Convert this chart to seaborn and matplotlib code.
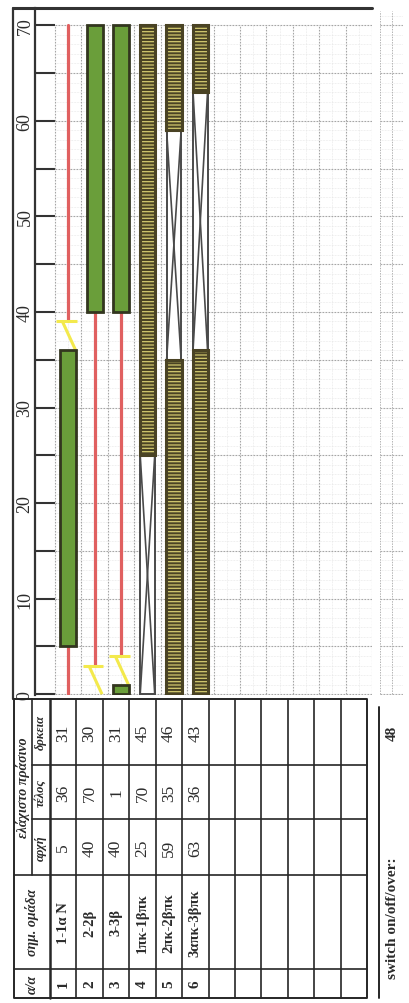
import matplotlib
matplotlib.use("Agg")
import pandas as pd
import matplotlib.pyplot as plt
import seaborn as sns

# πρόγραμμα σηματοδότησης (κύκλος 70 sec)
CYCLE = 70
AMBER = 3

aa = [1, 2, 3, 4, 5, 6]
groups = ["1-1α Ν", "2-2β", "3-3β", "1πκ-1βπκ", "2πκ-2βπκ", "3απκ-3βπκ"]
start = [5, 40, 40, 25, 59, 63]
end = [36, 70, 1, 70, 35, 36]
duration = [31, 30, 31, 45, 46, 43]
pedestrian = [False, False, False, True, True, True]
n_rows = 12
time_ticks = list(range(0, 71, 5))
switch_label = "switch on/off/over:"
switch_value = 48

W, H = 409, 1004
FONT = ["Liberation Serif", "DejaVu Serif"]
DARK = "#2b2b2b"
GREEN = "#6a9e3a"
GREEN_EDGE = "#33361f"
RED = "#e06060"
YELLOW = "#f3e94c"
OLIVE = "#4a4324"
STRIPE = "#d2c96e"


def spans(a, b):
    a, b = a % CYCLE, b % CYCLE
    out = [(a, b)] if a < b else [(a, CYCLE), (0, b)]
    return [(s, e) for s, e in out if e > s]


def px_box(x0, y0, x1, y1):
    return [x0 / W, 1 - y1 / H, (x1 - x0) / W, (y1 - y0) / H]


sns.set_theme(style="white")
plt.rcParams["font.family"] = FONT

# διαστήματα ανά ομάδα
green_rows, red_rows, amber_rows, x_rows = [], [], [], []
for i, (s, e) in enumerate(zip(start, end)):
    lane = i + 1
    for a, b in spans(s, e):
        green_rows.append({"lane": lane, "bottom": a, "height": b - a, "ped": pedestrian[i]})
    if pedestrian[i]:
        for a, b in spans(e, s):
            x_rows.append({"lane": lane, "a": a, "b": b})
    else:
        am0 = e % CYCLE
        amber_rows.append({"lane": lane, "a": am0, "b": am0 + AMBER})
        for k, (a, b) in enumerate(spans(am0 + AMBER, s)):
            red_rows += [{"seg": f"{lane}-{k}", "lane": lane, "t": a},
                         {"seg": f"{lane}-{k}", "lane": lane, "t": b}]
green_df = pd.DataFrame(green_rows)
red_df = pd.DataFrame(red_rows)
amber_df = pd.DataFrame(amber_rows)
x_df = pd.DataFrame(x_rows)

fig = plt.figure(figsize=(W / 100, H / 100), dpi=100)
fig.patch.set_facecolor("white")

# ---- διάγραμμα χρόνου ----
ax = fig.add_axes(px_box(35, 9, 372, 696))
ax.set_xlim(0.5 - 20 / 26.4, n_rows + 0.5)
ax.set_ylim(-0.08, 71.8)
ax.set_facecolor("white")

# πλέγμα
lanes_edges = [k + 0.5 for k in range(n_rows + 1)]
ax.hlines(range(0, CYCLE + 1), 0.5, n_rows + 0.5, colors="#e2e2e2", lw=0.5,
          linestyles=(0, (1, 1.2)), zorder=0.5)
ax.vlines([k + 1.0 for k in range(n_rows)], 0, CYCLE, colors="#e2e2e2", lw=0.5,
          linestyles=(0, (1, 1.2)), zorder=0.5)
ax.hlines(time_ticks, 0.5, n_rows + 0.5, colors="#a6a6a6", lw=0.8,
          linestyles=(0, (1.5, 1.2)), zorder=0.6)
ax.vlines(lanes_edges, 0, CYCLE, colors="#a6a6a6", lw=0.8,
          linestyles=(0, (1.5, 1.2)), zorder=0.6)

# κόκκινο
sns.lineplot(data=red_df, x="lane", y="t", units="seg", estimator=None, sort=False,
             color=RED, lw=2.3, ax=ax, zorder=2, legend=False)

# κίτρινο
for _, r in amber_df.iterrows():
    ax.plot([r.lane + 0.28, r.lane - 0.22], [r.a, r.b], color=YELLOW, lw=2.2,
            solid_capstyle="butt", zorder=2.5)
    ax.plot([r.lane - 0.45, r.lane + 0.32], [r.b, r.b], color=YELLOW, lw=2.2,
            solid_capstyle="butt", zorder=2.5)

# πράσινο οχημάτων
veh = green_df[~green_df.ped]
ax.bar(veh.lane, veh.height, width=0.6, bottom=veh.bottom, color=GREEN,
       edgecolor=GREEN_EDGE, linewidth=2.0, zorder=3)

# πράσινο πεζών (γραμμοσκίαση)
ped = green_df[green_df.ped]
plt.rcParams["hatch.linewidth"] = 0.9
ax.bar(ped.lane, ped.height, width=0.58, bottom=ped.bottom, color=OLIVE,
       edgecolor=STRIPE, linewidth=0, hatch="-----", zorder=3)
ax.bar(ped.lane, ped.height, width=0.58, bottom=ped.bottom, fill=False,
       edgecolor=OLIVE, linewidth=2.2, zorder=3.2)

# κόκκινο πεζών (πλαίσιο με Χ)
xw = 0.55
ax.bar(x_df.lane, x_df.b - x_df.a, width=xw, bottom=x_df.a, color="white",
       edgecolor="#4a4a4a", linewidth=1.4, zorder=2.8)
for _, r in x_df.iterrows():
    ax.plot([r.lane - xw / 2, r.lane + xw / 2], [r.a, r.b], color="#4a4a4a", lw=1.2, zorder=2.9)
    ax.plot([r.lane + xw / 2, r.lane - xw / 2], [r.a, r.b], color="#4a4a4a", lw=1.2, zorder=2.9)

ax.set_xticks([])
ax.set_yticks(time_ticks)
ax.set_yticklabels([str(t) if t % 10 == 0 else "" for t in time_ticks],
                   rotation=90, va="center", ha="right", fontsize=13, color=DARK)
ax.tick_params(axis="y", direction="in", length=14.5, width=1.5, color="#333333",
               pad=1, left=True)
ax.set_xlabel("")
ax.set_ylabel("")
for side in ["top", "right", "bottom"]:
    ax.spines[side].set_visible(False)
ax.spines["left"].set_color("#333333")
ax.spines["left"].set_linewidth(1.6)

# ---- δεξιά λωρίδα πλέγματος ----
ax2 = fig.add_axes(px_box(380, 9, 403, 696))
ax2.set_xlim(0, 1)
ax2.set_ylim(ax.get_ylim())
ax2.hlines(range(0, 72), 0, 1, colors="#e4e4e4", lw=0.5, linestyles=(0, (1, 1.2)))
ax2.hlines(time_ticks, 0, 1, colors="#ababab", lw=0.8, linestyles=(0, (1.5, 1.2)))
ax2.vlines([0, 0.5, 1], 0, 71.5, colors="#b4b4b4", lw=0.7, linestyles=(0, (1.5, 1.2)))
ax2.axis("off")

# ---- πίνακας ----
tb = fig.add_axes([0, 0, 1, 1])
tb.set_xlim(0, W)
tb.set_ylim(H, 0)
tb.axis("off")
tb.set_zorder(5)
lc = "#262626"

# πλαίσιο διαγράμματος
tb.plot([13, 372], [9, 9], color="#333333", lw=2.2)
tb.plot([13, 13], [9, 700], color="#333333", lw=1.6)

x_left, x_head, x_sub, x_right = 14, 50, 32, 367
y_top, y_bot = 700, 999
col_dur, col_end, col_start, col_grp = 766, 820, 876, 970
row_w = (x_right - x_head) / n_rows

tb.plot([x_left, x_right, x_right, x_left, x_left], [y_top, y_top, y_bot, y_bot, y_top],
        color=lc, lw=1.4)
for yy in [col_dur, col_end]:
    tb.plot([x_sub, x_right], [yy, yy], color=lc, lw=1.2)
for yy in [col_start, col_grp]:
    tb.plot([x_left, x_right], [yy, yy], color=lc, lw=1.2)
tb.plot([x_sub, x_sub], [y_top, col_start], color=lc, lw=1.2)
tb.plot([x_head, x_head], [y_top, y_bot], color=lc, lw=1.8)
for k in range(1, n_rows):
    xx = x_head + k * row_w
    tb.plot([xx, xx], [y_top, y_bot], color=lc, lw=1.2)

hdr = dict(rotation=90, ha="center", va="center", color=DARK, fontweight="bold",
           fontstyle="italic")
tb.text((x_left + x_head) / 2, (col_grp + y_bot) / 2, "α/α", fontsize=10, **hdr)
tb.text((x_left + x_head) / 2, (col_start + col_grp) / 2, "σημ. ομάδα", fontsize=10, **hdr)
tb.text((x_left + x_sub) / 2, (y_top + col_start) / 2, "ελάχιστο πράσινο", fontsize=10, **hdr)
tb.text((x_sub + x_head) / 2, (col_end + col_start) / 2, "αρχή", fontsize=9, **hdr)
tb.text((x_sub + x_head) / 2, (col_dur + col_end) / 2, "τέλος", fontsize=9, **hdr)
tb.text((x_sub + x_head) / 2, (y_top + col_dur) / 2, "δρκεια", fontsize=9, **hdr)

cell = dict(rotation=90, ha="center", va="center", color=DARK)
for i in range(len(groups)):
    xc = x_head + (i + 0.5) * row_w
    tb.text(xc, (col_grp + y_bot) / 2, str(aa[i]), fontsize=11, fontweight="bold", **cell)
    tb.text(xc, (col_start + col_grp) / 2, groups[i], fontsize=10.5, fontweight="bold", **cell)
    tb.text(xc, (col_end + col_start) / 2, str(start[i]), fontsize=12.5, **cell)
    tb.text(xc, (col_dur + col_end) / 2, str(end[i]), fontsize=12.5, **cell)
    tb.text(xc, (y_top + col_dur) / 2, str(duration[i]), fontsize=12.5, **cell)

# switch on/off/over
tb.plot([379, 379], [708, y_bot], color=lc, lw=1.4)
tb.text(392, 918, switch_label, fontsize=11, fontweight="bold", **cell)
tb.text(392, 733, str(switch_value), fontsize=11, fontweight="bold", **cell)

fig.savefig("out.png", dpi=100, facecolor="white")
